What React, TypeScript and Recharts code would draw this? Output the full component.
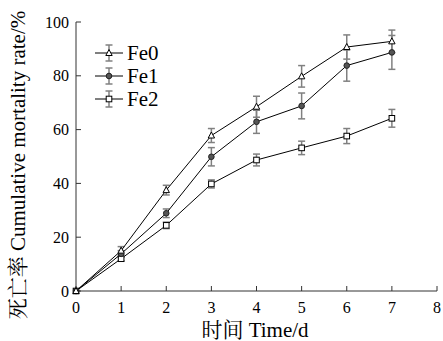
import { ErrorBar, Label, Line, LineChart, XAxis, YAxis } from "recharts";

const days = [0, 1, 2, 3, 4, 5, 6, 7];
const fe0 = [0, 15, 37.5, 57.8, 68.5, 79.8, 90.7, 92.8];
const fe0Err = [0, 1.5, 1.8, 2.6, 3.9, 4, 4.5, 4.2];
const fe1 = [0, 13.8, 28.9, 49.9, 62.9, 68.8, 83.8, 88.7];
const fe1Err = [0, 1.2, 1.6, 3.4, 4.3, 4.8, 5.8, 6.3];
const fe2 = [0, 12, 24.4, 39.8, 48.7, 53.2, 57.6, 64.2];
const fe2Err = [0, 0.8, 1.2, 1.5, 2.2, 2.5, 2.8, 3.3];

const xTicks = [0, 1, 2, 3, 4, 5, 6, 7, 8];
const yTicks = [0, 20, 40, 60, 80, 100];

const seriesNames = ["Fe0", "Fe1", "Fe2"];
const markers = ["triangle", "circle", "square"];

const FONT = "Liberation Serif, Noto Serif CJK SC";
const ERR_COLOR = "#808080";

const data = days.map((d, i) => ({
  day: d,
  fe0: fe0[i],
  fe0Err: fe0Err[i],
  fe1: fe1[i],
  fe1Err: fe1Err[i],
  fe2: fe2[i],
  fe2Err: fe2Err[i],
}));

function Marker({ kind, cx, cy }: { kind: string; cx: number; cy: number }) {
  if (kind === "triangle") {
    return (
      <polygon
        points={`${cx},${cy - 3.5} ${cx - 3.2},${cy + 2.5} ${cx + 3.2},${cy + 2.5}`}
        fill="#fff"
        stroke="#000"
        strokeWidth={1}
      />
    );
  }
  if (kind === "circle") {
    return <circle cx={cx} cy={cy} r={2.8} fill="#555" stroke="#222" strokeWidth={1} />;
  }
  return <rect x={cx - 2.8} y={cy - 2.8} width={5.6} height={5.6} fill="#fff" stroke="#000" strokeWidth={1} />;
}

const dot = (kind: string) => (props: any) => {
  const { cx, cy, index } = props;
  if (cx == null || cy == null) return <g key={index} />;
  return <Marker key={index} kind={kind} cx={cx} cy={cy} />;
};

function YTitle() {
  return (
    <text
      x={18}
      y={165}
      transform="rotate(-90 18 165)"
      textAnchor="middle"
      dominantBaseline="central"
      fontFamily={FONT}
      fontSize={21}
      fill="#000"
    >
      死亡率 Cumulative mortality rate/%
    </text>
  );
}

function XTitle() {
  return (
    <text x={255} y={337} textAnchor="middle" fontFamily={FONT} fontSize={21} fill="#000">
      时间 Time/d
    </text>
  );
}

function LegendBox() {
  return (
    <svg width={100} height={80} style={{ position: "absolute", left: 90, top: 38, pointerEvents: "none" }}>
      {seriesNames.map((name, i) => {
        const cy = 15 + i * 23;
        return (
          <g key={name}>
            <line x1={19} y1={cy - 8} x2={19} y2={cy + 8} stroke={ERR_COLOR} strokeWidth={1.5} />
            <line x1={15.5} y1={cy - 8} x2={22.5} y2={cy - 8} stroke={ERR_COLOR} strokeWidth={1.5} />
            <line x1={15.5} y1={cy + 8} x2={22.5} y2={cy + 8} stroke={ERR_COLOR} strokeWidth={1.5} />
            <line x1={5} y1={cy} x2={33} y2={cy} stroke="#000" strokeWidth={1} />
            <Marker kind={markers[i]} cx={19} cy={cy} />
            <text x={37} y={cy + 7} fontFamily={FONT} fontSize={21} fill="#000">
              {name}
            </text>
          </g>
        );
      })}
    </svg>
  );
}

export default function App() {
  return (
    <div
      style={{
        position: "absolute",
        left: 0,
        top: 0,
        width: 443,
        height: 341,
        background: "#fff",
        fontFamily: FONT,
      }}
    >
      <LineChart width={443} height={341} data={data} margin={{ top: 22, right: 6, bottom: 0, left: 0 }}>
        <XAxis
          dataKey="day"
          type="number"
          domain={[0, 8]}
          ticks={xTicks}
          interval={0}
          height={50}
          tickSize={-5}
          tickMargin={16}
          stroke="#333"
          tick={{ fill: "#000", fontSize: 16, fontFamily: FONT }}
        >
          <Label content={XTitle} />
        </XAxis>
        <YAxis
          type="number"
          domain={[0, 100]}
          ticks={yTicks}
          interval={0}
          width={76}
          tickSize={-5}
          tickMargin={12}
          stroke="#333"
          tick={{ fill: "#000", fontSize: 16, fontFamily: FONT }}
        >
          <Label content={YTitle} />
        </YAxis>
        <Line dataKey="fe2" stroke="#000" strokeWidth={1} dot={dot("square")} isAnimationActive={false}>
          <ErrorBar dataKey="fe2Err" width={3.5} stroke={ERR_COLOR} strokeWidth={1.5} direction="y" />
        </Line>
        <Line dataKey="fe1" stroke="#000" strokeWidth={1} dot={dot("circle")} isAnimationActive={false}>
          <ErrorBar dataKey="fe1Err" width={3.5} stroke={ERR_COLOR} strokeWidth={1.5} direction="y" />
        </Line>
        <Line dataKey="fe0" stroke="#000" strokeWidth={1} dot={dot("triangle")} isAnimationActive={false}>
          <ErrorBar dataKey="fe0Err" width={3.5} stroke={ERR_COLOR} strokeWidth={1.5} direction="y" />
        </Line>
      </LineChart>
      <LegendBox />
    </div>
  );
}
